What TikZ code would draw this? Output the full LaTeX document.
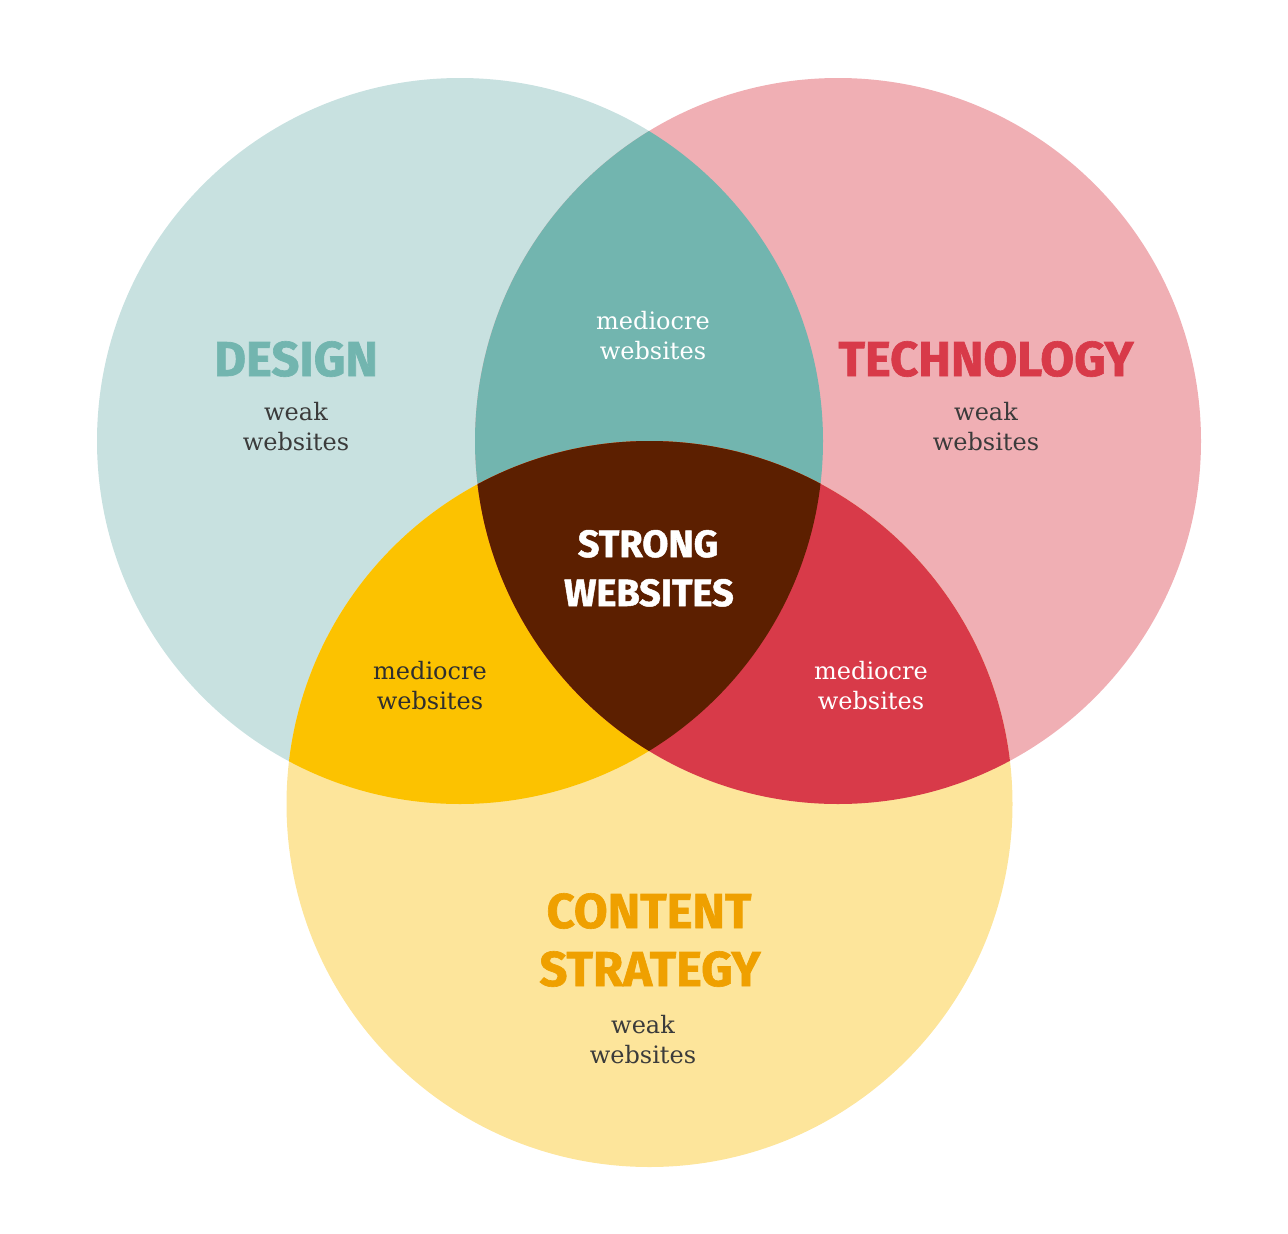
\documentclass[tikz,border=0pt]{standalone}
\usepackage{fontspec}
\setmainfont{DejaVu Serif}
\newfontfamily\headfont{Fira Sans}[BoldFont={* Bold}, BoldFeatures={FakeBold=1.3}]
\definecolor{designlight}{HTML}{C8E1E0}
\definecolor{techlight}{HTML}{F0AFB4}
\definecolor{contentlight}{HTML}{FDE59B}
\definecolor{teal}{HTML}{72B5AF}
\definecolor{redc}{HTML}{D83A49}
\definecolor{yellowc}{HTML}{FCC200}
\definecolor{darkc}{HTML}{5C1F00}
\definecolor{orangec}{HTML}{EFA000}
\definecolor{grayt}{HTML}{3B3B3B}
\tikzset{
  heading/.style={anchor=base, inner sep=0pt, font=\headfont\bfseries\fontsize{49}{49}\selectfont},
  strongtxt/.style={anchor=base, inner sep=0pt, text=white, font=\headfont\bfseries\fontsize{38}{38}\selectfont},
  body/.style={anchor=base, inner sep=0pt, font=\fontsize{24}{24}\selectfont},
}
\begin{document}
\begin{tikzpicture}[x=1pt,y=-1pt]
\useasboundingbox (0,0) rectangle (1288,1234);
\def\R{363}
\coordinate (cd) at (460,441);
\coordinate (ct) at (838,441);
\coordinate (cc) at (649.5,804);
% circles
\fill[designlight] (cd) circle[radius=\R];
\fill[techlight] (ct) circle[radius=\R];
\fill[contentlight] (cc) circle[radius=\R];
% pairwise intersections
\begin{scope}
  \clip (cd) circle[radius=\R];
  \fill[teal] (ct) circle[radius=\R];
  \fill[yellowc] (cc) circle[radius=\R];
\end{scope}
\begin{scope}
  \clip (ct) circle[radius=\R];
  \fill[redc] (cc) circle[radius=\R];
\end{scope}
\begin{scope}
  \clip (cd) circle[radius=\R];
  \clip (ct) circle[radius=\R];
  \fill[darkc] (cc) circle[radius=\R];
\end{scope}
% headings
\node[heading, text=teal] (design) at (296,376) {DESIGN};
\node[heading, text=redc] (tech) at (986,376) {TECHNOLOGY};
\node[heading, text=orangec] (content1) at (649,928) {CONTENT};
\node[heading, text=orangec] (content2) at (650,986) {STRATEGY};
\node[strongtxt] (strong1) at (648,557) {STRONG};
\node[strongtxt] (strong2) at (649,606) {WEBSITES};
% weak
\node[body, text=grayt] (dw1) at (296,420) {weak};
\node[body, text=grayt] (dw2) at (296,450) {websites};
\node[body, text=grayt] (tw1) at (986,420) {weak};
\node[body, text=grayt] (tw2) at (986,450) {websites};
\node[body, text=grayt] (cw1) at (643,1033) {weak};
\node[body, text=grayt] (cw2) at (643,1063) {websites};
% mediocre
\node[body, text=white] (dt1) at (653,329) {mediocre};
\node[body, text=white] (dt2) at (653,359) {websites};
\node[body, text=grayt!80!black] (dc1) at (430,679) {mediocre};
\node[body, text=grayt!80!black] (dc2) at (430,709) {websites};
\node[body, text=white] (tc1) at (871,679) {mediocre};
\node[body, text=white] (tc2) at (871,709) {websites};
\end{tikzpicture}
\end{document}
